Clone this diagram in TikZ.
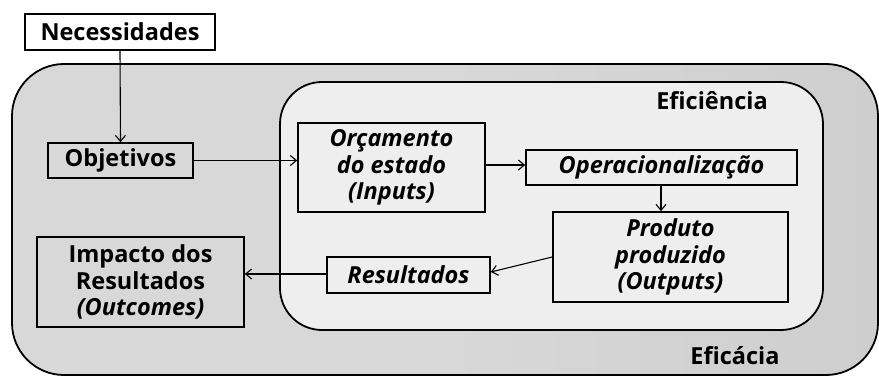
\documentclass[tikz,border=0pt]{standalone}
\usepackage{fontspec}
\setmainfont{Open Sans}
\usetikzlibrary{arrows.meta}
\definecolor{outerg}{RGB}{216,216,216}
\definecolor{innerg}{RGB}{238,238,238}
\begin{document}
\begin{tikzpicture}[x=1pt,y=-1pt,
  box/.style={draw=black, line width=1.6pt, font=\fontsize{23.5}{26.5}\selectfont\bfseries, align=center, inner sep=0pt},
  lbl/.style={font=\fontsize{23.5}{26.5}\selectfont\bfseries},
  conn/.style={-{Straight Barb[length=6pt,width=10pt]}, line width=1.1pt}]
\useasboundingbox (0,0) rectangle (879,377);
\fill[white] (0,0) rectangle (879,377);
% outer region
\draw[line width=1.8pt, left color=outerg, right color={rgb,255:red,206;green,206;blue,206}, middle color=outerg, rounded corners=52pt] (12,64) rectangle (878,375);
\draw[line width=1.8pt, fill=innerg, rounded corners=42pt] (280,82) rectangle (823,330);
\node[lbl] (efi) at (712,101) {Eficiência};
\node[lbl] (efa) at (735,356) {Eficácia};
% boxes
\node[box, fill=white, minimum width=190pt, minimum height=36pt] (nec) at (120,32) {Necessidades};
\node[box, fill=outerg, minimum width=145pt, minimum height=35pt] (obj) at (120.5,160.5) {Objetivos};
\node[box, fill=innerg, minimum width=187pt, minimum height=89pt] (orc) at (391.5,167.5) {\itshape Orçamento\\\itshape do estado\\\itshape (Inputs)};
\node[box, fill=innerg, minimum width=271pt, minimum height=35pt] (ope) at (661.5,167.5) {\itshape Operacionalização};
\node[box, fill=innerg, minimum width=235pt, minimum height=90pt] (pro) at (670.5,257) {\itshape Produto\\\itshape produzido\\\itshape (Outputs)};
\node[box, fill=innerg, minimum width=163pt, minimum height=36pt] (res) at (408.5,275) {\itshape Resultados};
\node[box, fill=outerg, minimum width=207pt, minimum height=90pt] (imp) at (140.5,282) {Impacto dos\\Resultados\\\itshape (Outcomes)};
% connectors
\draw[conn] (nec.south) -- (obj.north);
\draw[conn] (obj.east) -- (orc.west |- obj.east);
\draw[conn] (orc.east |- 0,165) -- (ope.west |- 0,165);
\draw[conn] (ope.south -| 661,0) -- (pro.north -| 661,0);
\draw[conn] (pro.west |- 0,257) -- (res.east |- 0,272);
\draw[conn] (res.west |- 0,274) -- (imp.east |- 0,274);
\end{tikzpicture}
\end{document}
